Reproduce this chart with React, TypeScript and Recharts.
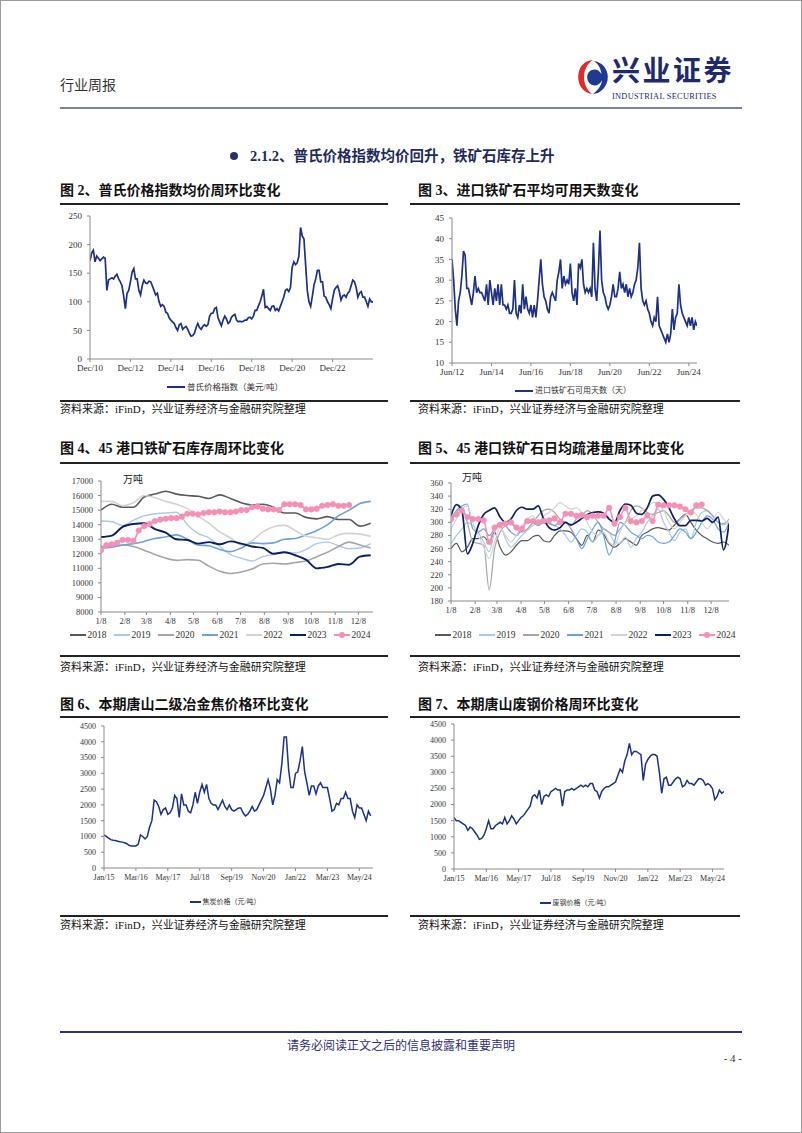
import React from 'react';
import { LineChart, Line, XAxis, YAxis, Legend } from 'recharts';

// ---------------- DATA ----------------
// Fig 2: Platts index, monthly from Dec/10
const PLATTS_START = 'Dec/10';
const PLATTS_TICK_LABELS = ['Dec/10', 'Dec/12', 'Dec/14', 'Dec/16', 'Dec/18', 'Dec/20', 'Dec/22'];
const PLATTS_Y_TICKS = [0, 50, 100, 150, 200, 250];
const PLATTS = [
  172,
  185, 190, 170, 180, 176, 172, 175, 178, 176, 120, 138, 140,
  142, 140, 145, 148, 140, 135, 128, 110, 88, 115, 120, 135,
  152, 158, 140, 140, 120, 112, 128, 138, 133, 132, 136, 135,
  128, 120, 112, 115, 100, 92, 95, 92, 82, 80, 72, 68,
  65, 62, 55, 50, 60, 62, 52, 55, 57, 52, 45, 40,
  41, 45, 55, 62, 55, 52, 57, 60, 57, 60, 75, 80,
  80, 88, 90, 72, 65, 58, 68, 75, 70, 62, 65, 73,
  76, 78, 68, 65, 66, 65, 66, 68, 68, 72, 73, 70,
  75, 85, 85, 93, 100, 110, 122, 90, 92, 88, 85, 92,
  93, 85, 88, 84, 92, 100, 108, 120, 122, 118, 125, 160,
  170, 165, 168, 180, 230, 215, 210, 165, 120, 100, 92, 110,
  130, 140, 155, 155, 135, 135, 110, 108, 100, 95, 88, 105,
  120, 125, 128, 118, 103, 110, 112, 108, 115, 118, 128, 138,
  135, 125, 108, 115, 118, 108, 108, 100, 92, 105, 100, 100,
];

// Fig 3: available days of imported ore, monthly from Jun/12
const DAYS_START = 'Jun/12';
const DAYS_TICK_LABELS = ['Jun/12', 'Jun/14', 'Jun/16', 'Jun/18', 'Jun/20', 'Jun/22', 'Jun/24'];
const DAYS_Y_TICKS = [10, 15, 20, 25, 30, 35, 40, 45];
const ORE_DAYS = [
  35, 30, 23, 19, 25, 27, 31,
  37, 36, 28, 28, 26, 24, 27, 31, 27, 28, 27, 27,
  26, 25, 29, 24, 30, 27, 24, 28, 25, 29, 24, 29,
  24, 24, 23, 24, 22, 22, 23, 30, 22, 21, 24, 22,
  29, 23, 26, 23, 22, 24, 21, 24, 21, 25, 30, 35,
  29, 26, 25, 23, 22, 26, 27, 26, 25, 30, 32, 35,
  28, 31, 29, 30, 29, 34, 27, 25, 28, 24, 34, 33,
  35, 29, 27, 28, 27, 28, 26, 39, 28, 25, 32, 42,
  30, 27, 26, 24, 23, 24, 26, 29, 26, 26, 28, 32,
  28, 29, 27, 29, 26, 28, 26, 27, 29, 30, 33, 39,
  28, 25, 24, 25, 23, 22, 20, 19, 21, 20, 26, 19,
  18, 17, 16, 15, 17, 15, 17, 23, 18, 21, 22, 29,
  24, 22, 21, 20, 19, 21, 19, 21, 18, 20, 19,
];

// Fig 4 / Fig 5: seasonal charts
const YEARS = ['2018', '2019', '2020', '2021', '2022', '2023', '2024'];
const SEASON_TICK_LABELS = ['1/8', '2/8', '3/8', '4/8', '5/8', '6/8', '7/8', '8/8', '9/8', '10/8', '11/8', '12/8'];
const STOCK_Y_TICKS = [8000, 9000, 10000, 11000, 12000, 13000, 14000, 15000, 16000, 17000];
// biweekly (2018-2023), weekly (2024)
const STOCK_2018 = [15000, 15400, 15200, 15200, 15900, 16100, 16300, 16100, 16000, 15950, 15800, 16050, 15800, 15500, 15350, 15400, 15200, 14800, 14800, 14500, 14400, 14550, 14350, 14350, 13900, 14100];
const STOCK_2019 = [14250, 14200, 13950, 14300, 14600, 14750, 14800, 14850, 14000, 13400, 13100, 12500, 11950, 11700, 11500, 11800, 11950, 12100, 12050, 12300, 12700, 12800, 12550, 12350, 12400, 12700];
const STOCK_2020 = [12500, 12500, 12600, 12500, 12250, 11950, 11700, 11550, 11600, 11550, 11150, 10800, 10650, 10750, 10950, 11300, 11350, 11300, 11400, 11500, 11800, 12100, 12500, 12800, 12600, 12400];
const STOCK_2021 = [12400, 12450, 12600, 12700, 12850, 13050, 13150, 13300, 13000, 12600, 12550, 12300, 12150, 12400, 12750, 12700, 12750, 13000, 13050, 13300, 13600, 14000, 14600, 15000, 15450, 15600];
const STOCK_2022 = [15600, 15600, 15300, 15500, 16000, 15850, 15600, 15400, 15100, 14600, 14100, 13500, 13100, 12600, 12900, 13500, 13850, 13950, 13600, 13200, 13100, 13000, 13300, 13400, 13350, 13200];
const STOCK_2023 = [13150, 13250, 13850, 14050, 14100, 13700, 13450, 13000, 12950, 12700, 12800, 12650, 12850, 12700, 12500, 12400, 12000, 12100, 11900, 11600, 11000, 11100, 11300, 11250, 11800, 11900];
const STOCK_2024 = [12250, 12600, 12650, 12750, 12950, 12950, 12900, 13600, 13900, 14050, 14250, 14350, 14400, 14450, 14450, 14550, 14750, 14750, 14700, 14800, 14850, 14850, 14900, 14850, 14850, 14900, 15000, 15000, 15200, 15250, 15100, 15050, 15050, 15000, 15400, 15400, 15400, 15350, 15050, 15050, 15100, 15300, 15350, 15400, 15300, 15300, 15350];

const CLEAR_Y_TICKS = [180, 200, 220, 240, 260, 280, 300, 320, 340, 360];
// weekly
const CLEAR_2018 = [260, 268, 255, 262, 275, 275, 278, 270, 285, 262, 250, 255, 265, 272, 272, 278, 280, 272, 270, 280, 287, 287, 285, 275, 265, 280, 270, 288, 282, 268, 262, 268, 275, 270, 265, 280, 285, 290, 292, 290, 288, 296, 305, 312, 300, 288, 280, 275, 270, 268, 270, 265];
const CLEAR_2019 = [268, 280, 290, 300, 295, 285, 270, 255, 285, 295, 275, 262, 270, 280, 288, 295, 300, 305, 300, 295, 290, 280, 270, 280, 290, 285, 270, 280, 290, 285, 270, 268, 278, 262, 275, 285, 300, 310, 320, 300, 285, 272, 285, 290, 275, 300, 315, 318, 310, 300, 296, 300];
const CLEAR_2020 = [300, 315, 322, 300, 270, 268, 265, 197, 260, 285, 295, 298, 290, 285, 290, 300, 310, 318, 320, 315, 305, 300, 295, 305, 310, 318, 312, 300, 290, 285, 280, 290, 300, 318, 325, 322, 315, 312, 315, 318, 310, 300, 305, 312, 318, 322, 322, 318, 310, 300, 298, 305];
const CLEAR_2021 = [305, 318, 325, 328, 290, 285, 290, 280, 290, 300, 295, 285, 280, 290, 300, 300, 295, 300, 298, 295, 300, 300, 290, 275, 260, 275, 290, 300, 280, 250, 270, 300, 295, 285, 280, 275, 280, 278, 270, 268, 270, 280, 290, 285, 275, 285, 300, 310, 305, 290, 285, 300];
const CLEAR_2022 = [290, 305, 320, 325, 300, 280, 262, 245, 270, 292, 280, 270, 280, 295, 305, 310, 300, 310, 315, 322, 330, 325, 320, 322, 315, 300, 285, 280, 285, 270, 265, 285, 300, 305, 310, 318, 322, 330, 328, 318, 300, 290, 300, 310, 318, 312, 300, 290, 300, 315, 305, 298];
const CLEAR_2023 = [310, 327, 318, 252, 268, 295, 312, 318, 322, 308, 300, 305, 318, 323, 320, 320, 325, 305, 292, 288, 292, 300, 296, 300, 306, 312, 315, 316, 314, 305, 300, 318, 328, 326, 314, 312, 322, 340, 342, 335, 322, 305, 295, 295, 303, 303, 302, 306, 300, 308, 258, 298];
const CLEAR_2024 = [305, 312, 318, 308, 305, 305, 303, 270, 292, 296, 298, 300, 292, 290, 302, 302, 300, 302, 303, 306, 300, 313, 313, 310, 311, 308, 310, 310, 310, 322, 298, 308, 322, 302, 300, 302, 310, 302, 327, 326, 326, 326, 324, 320, 315, 326, 327];

// Fig 6 / Fig 7: monthly from Jan/15
const TS_START = 'Jan/15';
const TS_TICK_LABELS = ['Jan/15', 'Mar/16', 'May/17', 'Jul/18', 'Sep/19', 'Nov/20', 'Jan/22', 'Mar/23', 'May/24'];
const PRICE_Y_TICKS = [0, 500, 1000, 1500, 2000, 2500, 3000, 3500, 4000, 4500];
const COKE = [
  1050, 1000, 950, 900, 880, 870, 850, 830, 820, 800, 770, 720,
  700, 700, 700, 750, 1050, 1000, 920, 1000, 1300, 1500, 2150, 2100,
  1950, 1700, 1850, 1900, 1700, 1750, 1900, 2300, 2200, 1600, 2350, 2000,
  2000, 1800, 1750, 2000, 2400, 2050, 2400, 2650, 2400, 2650, 2200, 2050,
  2000, 2000, 1850, 2000, 2150, 1950, 1850, 2000, 1850, 1800, 1850, 1900,
  1900, 1750, 1650, 1700, 1800, 1950, 1800, 1850, 2000, 2150, 2300, 2550,
  2800, 2500, 2000, 2300, 2800, 2700, 3300, 4150, 4150, 3100, 2550, 2550,
  3000, 3050, 3400, 3850, 3050, 2700, 2300, 2600, 2600, 2350, 2600, 2700,
  2550, 2550, 2550, 2200, 1800, 1850, 2050, 2000, 2200, 2200, 2400, 2200,
  2200, 1800, 1600, 2000, 1900, 1900, 1700, 1500, 1800, 1650,
];
const SCRAP = [
  1600, 1500, 1500, 1450, 1400, 1350, 1200, 1300, 1250, 1150, 1050, 920,
  950, 1050, 1250, 1500, 1250, 1250, 1350, 1400, 1450, 1400, 1600, 1400,
  1500, 1650, 1550, 1400, 1500, 1600, 1650, 1750, 1850, 1950, 2250, 2300,
  2200, 2450, 2000, 2250, 2300, 2250, 2400, 2450, 2500, 2450, 2450, 1950,
  2400, 2450, 2450, 2500, 2450, 2500, 2550, 2600, 2550, 2600, 2550, 2650,
  2650, 2450, 2400, 2200, 2400, 2500, 2550, 2550, 2600, 2650, 2700, 2900,
  3100, 3000, 3350, 3550, 3900, 3550, 3650, 3650, 3600, 3550, 2750, 3250,
  3400, 3500, 3550, 3550, 3500, 3000, 2350, 2800, 2850, 2600, 2600, 2700,
  2800, 2850, 2800, 2550, 2600, 2750, 2650, 2650, 2600, 2700, 2800, 2800,
  2750, 2600, 2650, 2600, 2500, 2150, 2250, 2450, 2350, 2400,
];

// ---------------- HELPERS ----------------
const SERIF = '"Liberation Serif", "DejaVu Serif", serif';
const CJK = '"Liberation Serif", "Noto Sans CJK SC", sans-serif';
const NAVY = '#1d3185';
const AXIS = { stroke: '#8a8a8a', strokeWidth: 1 };
const YEAR_COLORS = ['#595959', '#aac9ea', '#a6a6a6', '#6fa0d8', '#d3d3d3', '#0d1f63', '#f48fb5'];

const MON: Record<string, number> = { Jan: 0, Feb: 1, Mar: 2, Apr: 3, May: 4, Jun: 5, Jul: 6, Aug: 7, Sep: 8, Oct: 9, Nov: 10, Dec: 11 };
const monthOffset = (start: string) => (label: string) => {
  const [sm, sy] = start.split('/');
  const [m, y] = label.split('/');
  return (Number(y) - Number(sy)) * 12 + MON[m] - MON[sm];
};
const dayOffset = (label: string) => {
  const [m, d] = label.split('/').map(Number);
  return Math.round((Date.UTC(2021, m - 1, d) - Date.UTC(2021, 0, 8)) / 86400000);
};
const toSeries = (vals: number[], step: number) => vals.map((v, i) => ({ x: i * step, v }));

type LegItem = { label: string; color: string; dot?: boolean; sw?: number };
function LegendRow({ items, fontSize, lineLen, gap, family }: { items: LegItem[]; fontSize: number; lineLen: number; gap: number; family: string }) {
  return (
    <div style={{ display: 'flex', justifyContent: 'center', alignItems: 'center', height: 16, fontFamily: family, fontSize, color: '#333', whiteSpace: 'nowrap' }}>
      {items.map((it, i) => (
        <div key={i} style={{ display: 'flex', alignItems: 'center', marginLeft: i ? gap : 0 }}>
          <svg width={lineLen} height={8} style={{ display: 'block' }}>
            <line x1={0} y1={4} x2={lineLen} y2={4} stroke={it.color} strokeWidth={it.sw ?? 2} />
            {it.dot && <circle cx={lineLen / 2} cy={4} r={3} fill={it.color} />}
          </svg>
          <span style={{ marginLeft: 2, lineHeight: '16px' }}>{it.label}</span>
        </div>
      ))}
    </div>
  );
}

type SingleProps = {
  pos: [number, number];
  size: [number, number];
  margin: { top: number; right: number; bottom: number; left: number };
  values: number[];
  xMax: number;
  tickLabels: string[];
  toX: (l: string) => number;
  yTicks: number[];
  yWidth: number;
  xHeight: number;
  fs: number;
  legendLabel: string;
  legendBox: [number, number];
  legendLine: number;
  legendFs: number;
  sw: number;
};

function SingleSeriesChart(p: SingleProps) {
  const data = toSeries(p.values, 1);
  const ticks = p.tickLabels.map(p.toX);
  const tick = { fontSize: p.fs, fill: '#333', fontFamily: SERIF };
  return (
    <div style={{ position: 'absolute', left: p.pos[0], top: p.pos[1] }}>
      <LineChart width={p.size[0]} height={p.size[1]} data={data} margin={p.margin}>
        <XAxis dataKey="x" type="number" domain={[0, p.xMax]} ticks={ticks} interval={0}
          tickFormatter={(v: number) => p.tickLabels[ticks.indexOf(v)] ?? ''}
          axisLine={AXIS} tickLine={AXIS} tickSize={3} tickMargin={3} tick={tick} height={p.xHeight} allowDataOverflow />
        <YAxis type="number" domain={[p.yTicks[0], p.yTicks[p.yTicks.length - 1]]} ticks={p.yTicks} interval={0}
          axisLine={AXIS} tickLine={AXIS} tickSize={3} tickMargin={5} tick={tick} width={p.yWidth} />
        <Legend verticalAlign="bottom" wrapperStyle={{ left: p.legendBox[0], width: p.legendBox[1] }}
          content={() => (
            <LegendRow items={[{ label: p.legendLabel, color: NAVY }]} fontSize={p.legendFs} lineLen={p.legendLine} gap={0} family={CJK} />
          )} />
        <Line dataKey="v" type="linear" stroke={NAVY} strokeWidth={p.sw} dot={false} isAnimationActive={false} />
      </LineChart>
    </div>
  );
}

type SeasonProps = {
  pos: [number, number];
  size: [number, number];
  margin: { top: number; right: number; bottom: number; left: number };
  series: number[][];
  steps: number[];
  xMax: number;
  yTicks: number[];
  yWidth: number;
  xHeight: number;
  fs: number;
  legendBox: [number, number];
  widths: number[];
};

function SeasonChart(p: SeasonProps) {
  const ticks = SEASON_TICK_LABELS.map(dayOffset);
  const tick = { fontSize: p.fs, fill: '#333', fontFamily: SERIF };
  const items: LegItem[] = YEARS.map((y, i) => ({ label: y, color: YEAR_COLORS[i], dot: i === YEARS.length - 1, sw: 2 }));
  return (
    <div style={{ position: 'absolute', left: p.pos[0], top: p.pos[1] }}>
      <LineChart width={p.size[0]} height={p.size[1]} margin={p.margin}>
        <XAxis dataKey="x" type="number" domain={[0, p.xMax]} ticks={ticks} interval={0}
          tickFormatter={(v: number) => SEASON_TICK_LABELS[ticks.indexOf(v)] ?? ''}
          axisLine={AXIS} tickLine={AXIS} tickSize={3} tickMargin={3} tick={tick} height={p.xHeight} allowDataOverflow />
        <YAxis type="number" domain={[p.yTicks[0], p.yTicks[p.yTicks.length - 1]]} ticks={p.yTicks} interval={0}
          axisLine={AXIS} tickLine={AXIS} tickSize={3} tickMargin={5} tick={tick} width={p.yWidth} />
        <Legend verticalAlign="bottom" wrapperStyle={{ left: p.legendBox[0], width: p.legendBox[1] }}
          content={() => <LegendRow items={items} fontSize={p.fs + 1} lineLen={16} gap={7} family={SERIF} />} />
        {p.series.map((vals, i) => (
          <Line key={YEARS[i]} data={toSeries(vals, p.steps[i])} dataKey="v" type="monotone"
            stroke={YEAR_COLORS[i]} strokeWidth={p.widths[i]}
            dot={i === YEARS.length - 1 ? { r: 2.8, fill: YEAR_COLORS[i], stroke: YEAR_COLORS[i], strokeWidth: 0.5 } : false}
            isAnimationActive={false} />
        ))}
      </LineChart>
    </div>
  );
}

const abs = (left: number, top: number, extra: React.CSSProperties = {}): React.CSSProperties => ({ position: 'absolute', left, top, ...extra });

function Rule({ x, y, w, h = 2, color = '#222' }: { x: number; y: number; w: number; h?: number; color?: string }) {
  return <div style={abs(x, y, { width: w, height: h, background: color })} />;
}

function Title({ x, y, text }: { x: number; y: number; text: string }) {
  return <div style={abs(x, y, { fontFamily: CJK, fontSize: 14, fontWeight: 700, color: '#111', lineHeight: '16px', whiteSpace: 'nowrap' })}>{text}</div>;
}

function Source({ x, y }: { x: number; y: number }) {
  return <div style={abs(x, y, { fontFamily: CJK, fontSize: 11, color: '#111', lineHeight: '13px', whiteSpace: 'nowrap' })}>资料来源：iFinD，兴业证券经济与金融研究院整理</div>;
}

function Unit({ x, y }: { x: number; y: number }) {
  return <div style={abs(x, y, { fontFamily: CJK, fontSize: 10, color: '#222', lineHeight: '12px' })}>万吨</div>;
}

function Logo() {
  return (
    <>
      <svg style={abs(577, 59)} width={32} height={36} viewBox="0 0 30 34">
        <path d="M15 1 C6 1 1 9 1 17 C1 25 6 32 14 33 C9 29 6.5 23 6.5 17 C6.5 10 10 4 15 1 Z" fill="#e02a2a" />
        <path d="M16 2 C24 3 29 10 29 17 C29 26 22 33 15 33 C20 29 23 25 23.5 20 C22 23 19.5 25 16.5 25 C12.5 25 9.5 21.5 9.5 17.5 C9.5 13 12.5 10 16.5 10 C19.5 10 22 12 23 14.5 C22.5 9 20 5 16 2 Z" fill="#1f3a93" />
      </svg>
      <div style={abs(612, 55, { fontFamily: '"Noto Sans CJK SC", sans-serif', fontSize: 28, fontWeight: 700, color: '#1f2a6e', lineHeight: '28px', letterSpacing: 2.5, whiteSpace: 'nowrap' })}>兴业证券</div>
      <div style={abs(612, 92, { fontFamily: SERIF, fontSize: 8.4, color: '#1f2a6e', lineHeight: '9px', letterSpacing: 0.25, whiteSpace: 'nowrap' })}>INDUSTRIAL SECURITIES</div>
    </>
  );
}

export default function App() {
  const seasonSteps = [14, 14, 14, 14, 14, 14, 7];
  return (
    <div style={{ position: 'absolute', left: 0, top: 0, width: 802, height: 1133, background: '#fff', overflow: 'hidden' }}>
      {/* header */}
      <div style={abs(60, 78, { fontFamily: CJK, fontSize: 14, color: '#333', lineHeight: '16px' })}>行业周报</div>
      <Logo />
      <Rule x={60} y={107} w={682} h={2} color="#7e8299" />

      {/* section heading */}
      <div style={abs(230, 152, { width: 8, height: 8, borderRadius: 4, background: '#2b3266' })} />
      <div style={abs(250, 148, { fontFamily: CJK, fontSize: 14.5, fontWeight: 700, color: '#1f2a5c', lineHeight: '16px', whiteSpace: 'nowrap' })}>2.1.2、普氏价格指数均价回升，铁矿石库存上升</div>

      {/* row 1 */}
      <Title x={60} y={183} text="图 2、普氏价格指数均价周环比变化" />
      <Title x={418} y={183} text="图 3、进口铁矿石平均可用天数变化" />
      <Rule x={60} y={203} w={328} />
      <Rule x={410} y={203} w={330} />
      <SingleSeriesChart pos={[50, 206]} size={[330, 196]} margin={{ top: 10, right: 7, bottom: 7, left: 8 }}
        values={PLATTS} xMax={168} tickLabels={PLATTS_TICK_LABELS} toX={monthOffset(PLATTS_START)}
        yTicks={PLATTS_Y_TICKS} yWidth={32} xHeight={20} fs={9}
        legendLabel="普氏价格指数（美元/吨）" legendBox={[0, 350]} legendLine={18} legendFs={8.5} sw={1.7} />
      <SingleSeriesChart pos={[410, 206]} size={[330, 196]} margin={{ top: 12, right: 43, bottom: 3, left: 14 }}
        values={ORE_DAYS} xMax={149} tickLabels={DAYS_TICK_LABELS} toX={monthOffset(DAYS_START)}
        yTicks={DAYS_Y_TICKS} yWidth={28} xHeight={20} fs={9}
        legendLabel="进口铁矿石可用天数（天）" legendBox={[0, 326]} legendLine={18} legendFs={8} sw={1.7} />
      <Rule x={60} y={400} w={328} />
      <Rule x={410} y={400} w={330} />
      <Source x={60} y={403} />
      <Source x={418} y={403} />

      {/* row 2 */}
      <Title x={60} y={441} text="图 4、45 港口铁矿石库存周环比变化" />
      <Title x={418} y={441} text="图 5、45 港口铁矿石日均疏港量周环比变化" />
      <Rule x={60} y={462} w={328} />
      <Rule x={410} y={462} w={330} />
      <SeasonChart pos={[50, 465]} size={[330, 185]} margin={{ top: 16, right: 7, bottom: 7, left: 11 }}
        series={[STOCK_2018, STOCK_2019, STOCK_2020, STOCK_2021, STOCK_2022, STOCK_2023, STOCK_2024]}
        steps={seasonSteps} xMax={353} yTicks={STOCK_Y_TICKS} yWidth={40} xHeight={15} fs={8.5}
        legendBox={[0, 340]} widths={[1.6, 1.4, 1.6, 1.6, 1.6, 1.9, 1.8]} />
      <Unit x={123} y={474} />
      <SeasonChart pos={[410, 465]} size={[330, 185]} margin={{ top: 18, right: 11, bottom: 7, left: 11 }}
        series={[CLEAR_2018, CLEAR_2019, CLEAR_2020, CLEAR_2021, CLEAR_2022, CLEAR_2023, CLEAR_2024]}
        steps={[7, 7, 7, 7, 7, 7, 7]} xMax={357} yTicks={CLEAR_Y_TICKS} yWidth={30} xHeight={26} fs={8.5}
        legendBox={[0, 350]} widths={[1.2, 1.2, 1.2, 1.2, 1.2, 1.7, 1.6]} />
      <Unit x={462} y={472} />
      <Rule x={60} y={655} w={328} />
      <Rule x={410} y={655} w={330} />
      <Source x={60} y={661} />
      <Source x={418} y={661} />

      {/* row 3 */}
      <Title x={60} y={697} text="图 6、本期唐山二级冶金焦价格环比变化" />
      <Title x={418} y={697} text="图 7、本期唐山废钢价格周环比变化" />
      <Rule x={60} y={716} w={328} />
      <Rule x={410} y={716} w={330} />
      <SingleSeriesChart pos={[50, 718]} size={[330, 198]} margin={{ top: 8, right: 7, bottom: 6, left: 18 }}
        values={COKE} xMax={118} tickLabels={TS_TICK_LABELS} toX={monthOffset(TS_START)}
        yTicks={PRICE_Y_TICKS} yWidth={36} xHeight={26} fs={8}
        legendLabel="焦炭价格（元/吨）" legendBox={[0, 350]} legendLine={11} legendFs={7} sw={1.5} />
      <SingleSeriesChart pos={[410, 718]} size={[330, 198]} margin={{ top: 6, right: 16, bottom: 5, left: 8 }}
        values={SCRAP} xMax={117} tickLabels={TS_TICK_LABELS} toX={monthOffset(TS_START)}
        yTicks={PRICE_Y_TICKS} yWidth={36} xHeight={26} fs={8}
        legendLabel="废钢价格（元/吨）" legendBox={[0, 330]} legendLine={11} legendFs={7} sw={1.5} />
      <Rule x={60} y={915} w={328} />
      <Rule x={410} y={915} w={330} />
      <Source x={60} y={919} />
      <Source x={418} y={919} />

      {/* footer */}
      <Rule x={60} y={1031} w={682} h={2} color="#2c3070" />
      <div style={abs(0, 1039, { width: 802, textAlign: 'center', fontFamily: CJK, fontSize: 12, color: '#2c3070', lineHeight: '14px' })}>请务必阅读正文之后的信息披露和重要声明</div>
      <div style={abs(716, 1052, { width: 26, textAlign: 'right', fontFamily: SERIF, fontSize: 11, color: '#333', lineHeight: '13px', whiteSpace: 'nowrap' })}>- 4 -</div>

      {/* page border */}
      <div style={abs(0, 0, { width: 802, height: 1133, boxSizing: 'border-box', border: '1px solid #9a9a9a', pointerEvents: 'none' })} />
    </div>
  );
}
